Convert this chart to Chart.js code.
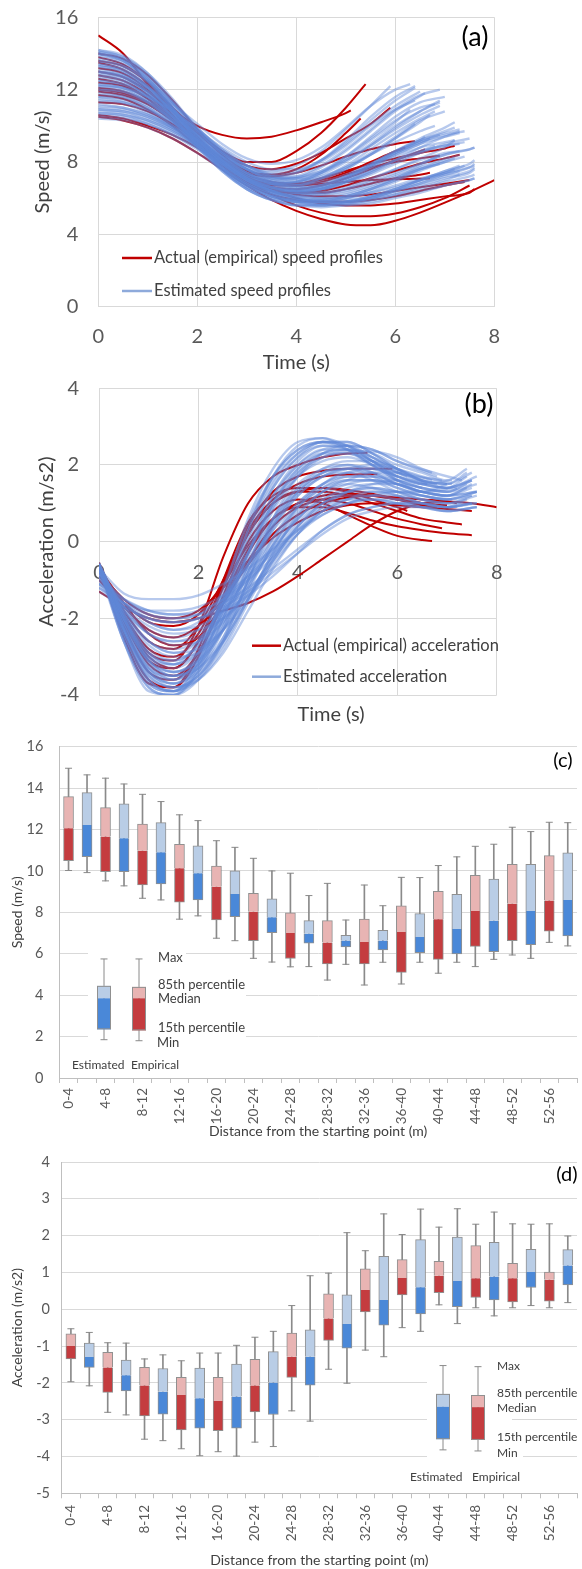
<!DOCTYPE html>
<html>
<head>
<meta charset="utf-8">
<script src="https://cdn.jsdelivr.net/npm/chart.js@4.4.1/dist/chart.umd.min.js"></script>
<style>
  html, body { margin: 0; padding: 0; background: #fff; }
  body { width: 582px; height: 1569px; position: relative; overflow: hidden; }
  canvas { position: absolute; left: 0; }
</style>
</head>
<body>
<canvas id="speedChart" width="582" height="380" style="top:0px"></canvas>
<canvas id="accelChart" width="582" height="350" style="top:380px"></canvas>
<canvas id="speedBox" width="582" height="410" style="top:730px"></canvas>
<canvas id="accelBox" width="582" height="429" style="top:1140px"></canvas>
<script>
// ---------- profile data: values every 0.5 s, the last value sits at the matching end time ----------
const STEP = 0.5;

const speedEmpirical = [
  [15.0,14.0,12.3,10.9,10.0,9.5,9.3,9.4,9.75,10.2,10.7,10.85],
  [13.5,13.1,12.2,11.0,9.7,8.6,8.0,8.0,8.6,9.6,11.0,12.3],
  [13.0,12.7,11.9,10.8,9.6,8.5,7.8,7.6,7.9,8.5,9.3,10.1,11.0],
  [12.1,11.9,11.3,10.4,9.3,8.2,7.4,7.2,7.4,7.8,8.3,8.7,9.0,9.15],
  [12.6,12.3,11.5,10.3,9.0,7.9,7.1,6.8,6.8,7.1,7.5,7.9,8.2,8.5,8.75,8.9],
  [11.7,11.5,10.9,10.0,8.9,7.9,7.1,6.8,6.7,6.8,6.9,7.0,7.05,7.08,7.1],
  [10.5,10.3,9.9,9.3,8.5,7.6,6.7,5.9,5.3,4.85,4.55,4.5,4.75,5.2,5.75,6.35,7.0],
  [10.6,10.4,10.0,9.5,8.8,7.9,7.0,6.2,5.6,5.2,5.0,5.0,5.15,5.5,6.0,6.7],
  [14.0,13.7,12.8,11.4,9.8,8.4,7.5,7.3,7.6,8.4,9.6,10.4],
  [13.8,13.4,12.4,10.9,9.3,8.0,7.1,6.7,6.7,6.9,7.3,7.7,8.0,8.2,8.35],
  [13.2,12.9,12.0,10.6,9.1,7.8,6.9,6.4,6.3,6.4,6.7,7.1,7.5,7.9,8.2,8.4],
  [12.4,12.2,11.5,10.4,9.1,7.9,7.0,6.5,6.3,6.3,6.5,6.8,7.1,7.3,7.4],
  [11.9,11.7,11.2,10.3,9.2,8.1,7.2,6.6,6.2,6.1,6.1,6.2,6.4,6.6,6.8,7.0],
  [12.8,12.5,11.7,10.5,9.1,7.8,6.8,6.2,5.9,5.8,5.8,5.9,6.1,6.4,6.7,6.9],
  [11.3,11.2,10.8,10.1,9.2,8.2,7.2,6.5,6.0,5.7,5.6,5.6,5.7,5.9,6.1,6.3,6.5],
  [13.6,13.3,12.4,11.0,9.4,8.0,7.1,6.6,6.5,6.7,7.1,7.6,8.1,8.6,8.7],
  [12.0,11.8,11.2,10.3,9.2,8.1,7.3,6.9,6.8,7.0,7.4,8.0,8.6,8.8]
];
const speedEmpiricalEnd = [5.1,5.4,5.9,6.4,7.2,6.7,8.0,7.5,5.3,6.9,7.3,6.7,7.5,7.4,7.6,6.6,6.2];

const speedEstimated = [
  [13.6,13.3,12.5,11.3,9.9,8.7,7.8,7.5,7.8,8.6,9.8,11.1,12.2],
  [12.9,12.7,12.1,11.2,10.1,9.0,8.2,7.9,8.1,8.8,9.9,11.1,12.0,12.3],
  [14.0,13.7,12.8,11.4,9.9,8.6,7.6,7.1,7.2,7.8,8.7,9.8,10.9,11.7,12.0],
  [12.3,12.1,11.6,10.8,9.8,8.8,8.0,7.6,7.6,8.1,9.0,10.1,11.1,11.9],
  [13.2,12.9,12.1,10.9,9.5,8.3,7.4,7.0,7.1,7.7,8.6,9.7,10.8,11.8],
  [11.6,11.4,10.9,10.1,9.2,8.3,7.6,7.3,7.4,8.0,8.9,10.0,10.9,11.4],
  [14.1,13.7,12.6,11.1,9.5,8.1,7.2,6.8,6.9,7.4,8.3,9.4,10.5,11.3,11.6],
  [12.7,12.5,11.9,10.9,9.7,8.5,7.6,7.1,7.1,7.5,8.3,9.3,10.3,11.0,11.2],
  [13.8,13.5,12.6,11.2,9.7,8.4,7.4,6.9,6.8,7.1,7.7,8.4,9.1,9.7,10.0],
  [12.0,11.8,11.3,10.5,9.5,8.5,7.6,7.0,6.8,6.9,7.3,7.9,8.6,9.2,9.7,9.9],
  [11.2,11.0,10.6,9.9,9.1,8.2,7.4,6.9,6.7,6.8,7.2,7.8,8.5,9.1,9.5],
  [13.4,13.1,12.2,10.9,9.4,8.1,7.1,6.6,6.5,6.7,7.2,7.8,8.4,9.0,9.4,9.6],
  [10.9,10.8,10.4,9.8,9.0,8.1,7.3,6.8,6.6,6.7,7.1,7.7,8.4,9.0,9.3],
  [12.5,12.3,11.6,10.5,9.2,8.0,7.0,6.5,6.3,6.5,7.0,7.6,8.3,8.8,9.1,9.2],
  [14.0,13.6,12.5,11.0,9.3,7.9,6.9,6.3,6.2,6.4,6.9,7.5,8.1,8.6,8.9],
  [11.5,11.3,10.8,10.0,9.0,8.0,7.1,6.6,6.4,6.5,6.9,7.5,8.1,8.6,8.9,9.0],
  [13.0,12.7,11.8,10.5,9.0,7.8,6.9,6.4,6.3,6.5,7.0,7.7,8.5,9.2,9.4],
  [10.6,10.5,10.1,9.5,8.7,7.9,7.1,6.6,6.4,6.5,6.9,7.4,8.0,8.5,8.9,9.1],
  [14.2,13.8,12.7,11.0,9.1,7.6,6.6,6.0,5.8,5.8,6.0,6.3,6.7,7.1,7.4,7.7,7.8],
  [12.2,12.0,11.3,10.2,8.9,7.7,6.8,6.2,5.9,5.9,6.0,6.3,6.6,7.0,7.3,7.5],
  [13.1,12.8,11.9,10.5,8.9,7.5,6.5,5.9,5.6,5.6,5.7,5.9,6.2,6.5,6.9,7.2,7.3],
  [11.0,10.9,10.5,9.8,8.9,7.9,7.0,6.3,5.9,5.7,5.7,5.9,6.2,6.6,7.0,7.3],
  [10.4,10.3,9.9,9.3,8.5,7.6,6.8,6.2,5.8,5.6,5.6,5.7,6.0,6.3,6.7,7.0,7.1],
  [13.5,13.2,12.2,10.7,9.0,7.6,6.6,6.0,5.7,5.6,5.7,6.0,6.4,6.9,7.4,7.6],
  [11.8,11.6,11.0,10.0,8.8,7.6,6.7,6.1,5.8,5.8,6.0,6.4,6.9,7.5,8.0,8.2],
  [12.8,12.5,11.6,10.3,8.8,7.5,6.5,5.9,5.6,5.5,5.6,5.8,6.1,6.4,6.7,7.0,7.1],
  [10.7,10.6,10.2,9.6,8.8,7.9,7.0,6.4,6.1,6.0,6.1,6.5,7.0,7.6,8.1,8.4],
  [12.6,12.4,11.7,10.6,9.3,8.0,7.0,6.4,6.1,6.1,6.3,6.7,7.2,7.7,8.2,8.3],
  [13.3,13.0,12.1,10.7,9.1,7.7,6.7,6.1,5.9,5.9,6.1,6.5,7.0,7.6,7.9],
  [11.3,11.2,10.7,9.9,8.9,7.9,7.0,6.4,6.0,5.8,5.8,6.0,6.3,6.7,7.1,7.4,7.6],
  [12.0,11.9,11.4,10.6,9.6,8.6,7.8,7.3,7.2,7.5,8.1,8.9,9.8,10.6,11.1],
  [10.8,10.7,10.3,9.7,8.9,8.1,7.3,6.8,6.7,7.0,7.6,8.4,9.3,10.1],
  [13.0,12.8,12.0,10.8,9.4,8.1,7.2,6.8,6.9,7.4,8.2,9.2,10.2,10.9],
  [14.1,13.8,12.9,11.5,9.8,8.3,7.2,6.6,6.5,6.7,7.2,7.9,8.6,9.2,9.6,9.8],
  [11.6,11.5,11.0,10.2,9.2,8.2,7.3,6.7,6.4,6.3,6.5,6.9,7.4,7.9,8.4,8.6],
  [12.3,12.1,11.4,10.3,9.0,7.8,6.8,6.2,5.9,5.9,6.1,6.5,7.1,7.8,8.4],
  [13.9,13.6,12.7,11.3,9.8,8.5,7.6,7.2,7.4,8.1,9.2,10.5,11.6,12.2],
  [12.5,12.3,11.7,10.8,9.7,8.6,7.8,7.4,7.5,8.1,9.1,10.3,11.4,12.1],
  [11.9,11.7,11.2,10.4,9.5,8.5,7.7,7.2,7.1,7.4,8.1,9.0,10.0,10.8,11.3],
  [13.3,13.0,12.1,10.8,9.3,8.0,7.1,6.7,6.7,7.1,7.8,8.7,9.6,10.4,10.8],
  [10.9,10.8,10.5,9.9,9.2,8.4,7.6,7.1,6.9,7.1,7.6,8.4,9.3,10.2,10.6],
  [14.2,13.9,12.9,11.3,9.6,8.1,7.1,6.5,6.4,6.6,7.1,7.8,8.5,9.1,9.5,9.7],
  [12.8,12.6,11.9,10.7,9.3,8.0,7.0,6.5,6.4,6.6,7.1,7.8,8.6,9.3,9.9,10.2],
  [11.4,11.3,10.9,10.2,9.3,8.3,7.4,6.8,6.5,6.5,6.8,7.3,7.9,8.5,9.0,9.3],
  [13.7,13.4,12.4,11.0,9.4,8.0,7.0,6.4,6.2,6.3,6.6,7.1,7.6,8.1,8.5,8.7,8.8],
  [12.1,11.9,11.3,10.3,9.1,7.9,6.9,6.3,6.0,6.0,6.2,6.6,7.1,7.6,8.0,8.3],
  [10.5,10.4,10.1,9.5,8.8,8.0,7.2,6.6,6.3,6.2,6.4,6.8,7.3,7.9,8.4,8.7,8.8],
  [13.0,12.7,11.8,10.5,9.0,7.7,6.7,6.1,5.8,5.7,5.8,6.1,6.5,7.0,7.5,7.9,8.1],
  [11.7,11.6,11.1,10.3,9.2,8.1,7.1,6.4,6.0,5.8,5.8,6.0,6.4,6.8,7.3,7.7,7.9],
  [14.0,13.6,12.5,10.9,9.1,7.6,6.5,5.9,5.6,5.6,5.8,6.1,6.5,7.0,7.5,7.8],
  [12.4,12.2,11.5,10.4,9.0,7.7,6.7,6.1,5.8,5.7,5.8,6.0,6.4,6.8,7.2,7.5,7.7],
  [10.7,10.6,10.3,9.7,8.9,8.0,7.1,6.4,6.0,5.8,5.9,6.1,6.5,7.0,7.4,7.8],
  [13.6,13.3,12.4,11.0,9.5,8.2,7.3,6.9,6.9,7.3,8.0,8.9,9.9,10.8,11.4],
  [12.2,12.1,11.6,10.8,9.8,8.7,7.8,7.2,7.0,7.2,7.7,8.5,9.4,10.3,10.8],
  [11.1,11.0,10.6,10.0,9.2,8.3,7.5,6.9,6.6,6.6,6.9,7.4,8.1,8.8,9.4,9.7],
  [13.4,13.1,12.2,10.8,9.2,7.8,6.8,6.3,6.1,6.2,6.5,7.0,7.6,8.2,8.8,9.2]
];
const speedEstimatedEnd = [5.9,6.3,6.9,6.5,6.6,6.4,7.0,6.8,6.8,7.2,6.9,7.3,6.7,7.2,6.8,7.3,6.6,7.4,
                           7.6,7.3,7.6,7.3,7.6,7.2,7.2,7.6,7.3,7.1,6.9,7.6,6.9,6.4,6.3,7.3,7.3,6.9,
                           6.4,6.4,6.9,6.8,6.7,7.4,7.2,7.5,7.6,7.4,7.6,7.6,7.6,7.3,7.6,7.4,6.9,7.0,7.3,7.2];

const accelEmpirical = [
  [-0.6,-1.9,-2.9,-3.1,-2.2,-0.4,1.0,1.7,2.0,2.2,2.3,2.32],
  [-0.7,-2.0,-3.0,-3.3,-2.6,-1.1,0.4,1.3,1.7,1.85,1.9,1.9,1.9],
  [-0.6,-1.8,-2.6,-2.8,-2.2,-1.0,0.3,1.1,1.5,1.7,1.75,1.76],
  [-1.3,-1.7,-2.0,-2.1,-2.0,-1.8,-1.6,-1.3,-0.9,-0.45,0.0,0.45,0.8,1.0,1.05,1.0,0.9],
  [-0.6,-2.2,-3.4,-3.6,-2.9,-1.5,-0.2,0.6,0.9,0.9,0.75,0.55,0.4,0.3,0.22,0.17],
  [-0.6,-2.4,-3.6,-3.8,-3.0,-1.4,0.0,0.8,1.1,1.0,0.7,0.4,0.15,0.04,0.02],
  [-0.7,-2.1,-3.2,-3.5,-2.9,-1.6,-0.3,0.6,1.0,1.1,1.0,0.8,0.6,0.45,0.35],
  [-1.0,-1.7,-2.3,-2.5,-2.2,-1.5,-0.6,0.2,0.7,1.0,1.15,1.2,1.15,1.1,1.05,1.0],
  [-0.8,-1.5,-1.9,-2.0,-1.8,-1.2,-0.5,0.1,0.5,0.8,0.95,1.0,0.95,0.9,0.85,0.8],
  [-0.6,-1.9,-2.8,-3.0,-2.4,-1.1,0.2,1.0,1.3,1.3,1.2,1.0,0.8,0.6,0.5,0.45],
  [-0.55,-2.0,-3.1,-3.3,-2.6,-1.2,0.2,1.0,1.3,1.4,1.35,1.25,1.1,0.95,0.9],
  [-0.9,-1.6,-2.1,-2.2,-1.9,-1.1,-0.1,0.6,1.0,1.2,1.25,1.2,1.1,1.0,0.95],
  [-0.6,-2.5,-3.7,-3.8,-2.8,-1.0,0.5,1.2,1.4,1.4,1.3,1.1,0.9,0.8],
  [-0.7,-1.6,-2.4,-2.7,-2.5,-1.6,-0.5,0.4,0.9,1.1,1.2,1.2,1.1,1.0,0.95]
];
const accelEmpiricalEnd = [5.4,5.9,5.6,8.0,7.5,6.7,6.9,7.2,7.5,7.3,6.8,6.6,6.2,7.0];

const accelEstimated = [
  [-0.6,-2.4,-3.6,-3.9,-3.1,-1.3,0.6,1.9,2.6,2.7,2.4,1.9],
  [-0.6,-2.2,-3.3,-3.6,-3.0,-1.5,0.3,1.6,2.3,2.6,2.5,2.2,1.8],
  [-0.7,-2.6,-3.8,-4.0,-3.3,-1.7,0.2,1.5,2.3,2.6,2.6,2.3,1.9,1.5],
  [-0.55,-1.9,-2.9,-3.2,-2.8,-1.6,-0.1,1.2,2.0,2.4,2.5,2.4,2.1,1.7],
  [-0.6,-1.8,-2.6,-2.9,-2.6,-1.6,-0.3,0.9,1.7,2.2,2.35,2.35,2.2,1.9,1.6],
  [-0.7,-2.3,-3.4,-3.7,-3.2,-2.0,-0.4,1.0,1.9,2.3,2.3,2.0,1.6,1.3,1.4],
  [-0.8,-1.7,-2.3,-2.5,-2.3,-1.6,-0.5,0.6,1.4,1.9,2.1,2.1,1.9,1.6,1.4,1.7],
  [-0.6,-2.0,-3.0,-3.4,-3.1,-2.1,-0.7,0.6,1.5,1.9,2.0,1.8,1.5,1.3,1.5],
  [-0.9,-1.5,-1.9,-2.0,-1.9,-1.4,-0.6,0.3,1.0,1.5,1.8,1.9,1.8,1.6,1.5,1.8],
  [-0.6,-2.5,-3.7,-3.9,-3.4,-2.3,-0.8,0.5,1.4,1.8,1.9,1.7,1.4,1.2,1.1],
  [-1.0,-1.6,-2.1,-2.3,-2.2,-1.8,-1.1,-0.2,0.6,1.2,1.5,1.6,1.5,1.3,1.2,1.4],
  [-0.7,-2.1,-3.2,-3.6,-3.3,-2.5,-1.2,0.0,0.9,1.4,1.6,1.6,1.4,1.2,1.1,1.3],
  [-1.2,-1.6,-1.8,-1.8,-1.7,-1.4,-0.9,-0.3,0.3,0.8,1.1,1.3,1.3,1.2,1.1,1.2],
  [-0.6,-2.3,-3.5,-3.8,-3.5,-2.6,-1.3,-0.1,0.8,1.3,1.5,1.4,1.2,1.0,0.9,1.1],
  [-0.8,-1.9,-2.7,-3.0,-2.9,-2.3,-1.4,-0.4,0.4,1.0,1.3,1.4,1.3,1.1,1.0,1.0],
  [-1.1,-1.5,-1.8,-1.9,-1.9,-1.6,-1.2,-0.7,-0.2,0.3,0.7,0.9,1.0,1.0,0.9,1.0],
  [-0.6,-2.6,-3.9,-4.0,-3.4,-2.0,-0.3,1.1,2.0,2.4,2.4,2.1,1.7],
  [-0.55,-2.0,-3.0,-3.2,-2.6,-1.2,0.5,1.7,2.4,2.6,2.5,2.1,1.6],
  [-0.7,-2.1,-3.1,-3.4,-3.0,-1.9,-0.3,1.0,1.8,2.2,2.3,2.1,1.8,1.6],
  [-0.9,-1.8,-2.4,-2.6,-2.4,-1.8,-0.9,0.1,0.9,1.4,1.7,1.7,1.6,1.4,1.3,1.5],
  [-0.6,-2.2,-3.3,-3.7,-3.4,-2.6,-1.5,-0.4,0.5,1.0,1.2,1.2,1.1,0.9,0.8,0.9],
  [-1.3,-1.7,-2.0,-2.1,-2.0,-1.7,-1.3,-0.8,-0.3,0.2,0.6,0.8,0.9,0.9,0.8,0.9],
  [-0.7,-2.4,-3.6,-3.9,-3.6,-2.8,-1.6,-0.5,0.4,0.9,1.1,1.1,1.0,0.9,0.9],
  [-0.6,-1.9,-2.8,-3.1,-2.7,-1.5,0.1,1.4,2.2,2.6,2.6,2.3,1.9,1.6],
  [-0.8,-1.6,-2.1,-2.3,-2.1,-1.5,-0.6,0.4,1.2,1.7,1.9,2.0,1.9,1.7,1.5],
  [-0.6,-2.0,-3.1,-3.5,-3.2,-2.2,-0.8,0.5,1.3,1.7,1.8,1.6,1.3,1.1,1.0,1.2],
  [-1.1,-1.8,-2.4,-2.6,-2.5,-2.0,-1.3,-0.5,0.2,0.7,1.0,1.1,1.1,1.0,0.9,1.0],
  [-0.6,-2.3,-3.4,-3.7,-3.3,-2.2,-0.6,0.9,1.8,2.3,2.4,2.3,2.0,1.8,1.6,1.9],
  [-0.7,-1.35,-1.5,-1.5,-1.4,-1.1,-0.7,-0.2,0.3,0.7,1.0,1.2,1.3,1.3,1.2,1.3],
  [-0.6,-2.1,-3.2,-3.5,-3.2,-2.3,-1.0,0.3,1.2,1.7,1.9,1.9,1.7,1.5,1.4,1.6],
  [-0.6,-2.5,-3.7,-3.9,-3.2,-1.6,0.3,1.7,2.5,2.7,2.5,2.1,1.7],
  [-0.65,-2.2,-3.3,-3.5,-2.9,-1.4,0.4,1.7,2.4,2.6,2.4,2.0,1.6,1.4],
  [-0.7,-2.0,-3.0,-3.3,-2.9,-1.8,-0.3,1.0,1.9,2.3,2.4,2.2,1.9,1.6,1.5],
  [-0.8,-1.8,-2.6,-2.8,-2.6,-1.9,-0.8,0.4,1.3,1.8,2.0,1.9,1.7,1.5,1.4,1.7],
  [-0.6,-2.4,-3.6,-3.9,-3.5,-2.5,-1.0,0.4,1.3,1.8,1.9,1.8,1.5,1.3,1.2,1.4],
  [-0.9,-1.6,-2.0,-2.1,-2.0,-1.6,-1.0,-0.2,0.6,1.1,1.4,1.5,1.5,1.4,1.3,1.5],
  [-0.6,-2.1,-3.1,-3.4,-3.1,-2.3,-1.1,0.1,1.0,1.5,1.7,1.7,1.5,1.3,1.2,1.5],
  [-1.0,-1.7,-2.2,-2.4,-2.3,-2.0,-1.4,-0.6,0.2,0.8,1.1,1.2,1.2,1.1,1.0,1.2],
  [-0.7,-2.3,-3.5,-3.8,-3.5,-2.7,-1.5,-0.3,0.6,1.1,1.3,1.3,1.2,1.0,0.9,1.0],
  [-0.6,-1.9,-2.9,-3.2,-2.9,-2.0,-0.6,0.8,1.7,2.1,2.2,2.0,1.7,1.5,1.6],
  [-1.2,-1.7,-2.0,-2.1,-2.0,-1.8,-1.4,-0.9,-0.3,0.3,0.7,0.9,1.0,1.0,0.9,1.0],
  [-0.6,-2.6,-3.8,-4.0,-3.6,-2.6,-1.0,0.6,1.7,2.3,2.5,2.4,2.1,1.8],
  [-0.8,-1.5,-1.8,-1.9,-1.8,-1.5,-1.0,-0.4,0.3,0.9,1.3,1.5,1.6,1.5,1.4,1.6],
  [-0.6,-2.2,-3.4,-3.8,-3.6,-2.9,-1.8,-0.7,0.2,0.8,1.0,1.1,1.0,0.9,0.8,0.9],
  [-0.7,-2.0,-2.9,-3.1,-2.7,-1.7,-0.2,1.2,2.1,2.5,2.5,2.2,1.8,1.5],
  [-0.9,-1.9,-2.6,-2.9,-2.8,-2.3,-1.5,-0.5,0.4,1.0,1.3,1.4,1.3,1.2,1.1,1.3],
  [-0.6,-2.3,-3.4,-3.6,-3.1,-1.8,0.0,1.4,2.2,2.5,2.4,2.1,1.7,1.5],
  [-1.1,-1.6,-1.9,-2.0,-1.9,-1.5,-0.9,-0.1,0.7,1.3,1.6,1.8,1.8,1.6,1.5,1.8],
  [-0.6,-2.0,-3.1,-3.5,-3.3,-2.6,-1.5,-0.3,0.7,1.3,1.6,1.6,1.5,1.3,1.2,1.3],
  [-0.75,-1.7,-2.4,-2.7,-2.6,-2.1,-1.2,-0.1,0.9,1.5,1.8,1.8,1.6,1.4,1.3,1.6]
];
const accelEstimatedEnd = [5.6,6.1,6.6,6.8,7.3,7.2,7.6,7.0,7.5,7.1,7.4,7.6,7.5,7.4,7.6,7.5,
                           6.2,6.0,6.9,7.4,7.6,7.6,7.2,6.7,7.1,7.5,7.5,7.4,7.6,7.5,
                           6.0,6.5,7.0,7.4,7.5,7.6,7.5,7.6,7.5,7.1,7.6,6.7,7.5,7.6,6.6,7.6,6.8,7.4,7.6,7.5];

// ---------- box-plot statistics per 4 m distance bin ----------
const distanceBins = ['0-4','4-8','8-12','12-16','16-20','20-24','24-28','28-32','32-36','36-40','40-44','44-48','48-52','52-56'];

const speedEmpMax = [14.96,14.48,13.70,12.71,11.46,10.61,9.89,9.40,9.32,9.69,10.26,11.19,12.11,12.35];
const speedEmpQ85 = [13.59,13.06,12.26,11.29,10.24,8.92,7.98,7.60,7.68,8.31,9.02,9.79,10.32,10.74];
const speedEmpMed = [12.06,11.66,10.98,10.13,9.24,8.03,7.00,6.54,6.57,7.05,7.67,8.07,8.42,8.57];
const speedEmpQ15 = [10.50,9.97,9.32,8.49,7.63,6.63,5.77,5.51,5.51,5.10,5.73,6.36,6.63,7.09];
const speedEmpMin = [10.02,9.52,8.68,7.67,6.75,5.78,5.37,4.73,4.49,4.54,5.06,5.38,5.94,6.55];

const speedEstMax = [14.64,14.20,13.35,12.43,11.14,10.00,8.81,7.63,8.32,9.68,10.68,11.29,11.90,12.33];
const speedEstQ85 = [13.78,13.24,12.33,11.21,10.00,8.65,7.60,6.89,7.13,7.94,8.87,9.61,10.32,10.87];
const speedEstMed = [12.22,11.58,10.90,9.89,8.89,7.76,6.97,6.64,6.64,6.81,7.20,7.60,8.07,8.60];
const speedEstQ15 = [10.69,9.97,9.37,8.60,7.79,7.02,6.51,6.33,6.18,6.05,5.99,6.10,6.44,6.86];
const speedEstMin = [9.92,9.28,8.60,7.83,6.63,5.60,5.38,5.49,5.59,5.59,5.59,5.73,5.78,6.38];

const accelEmpMax = [-0.53,-0.91,-1.35,-1.40,-1.19,-0.76,0.10,0.98,1.59,2.03,2.23,2.31,2.32,2.32];
const accelEmpQ85 = [-0.67,-1.17,-1.58,-1.85,-1.85,-1.36,-0.65,0.42,1.10,1.35,1.30,1.73,1.25,1.01];
const accelEmpMed = [-1.00,-1.58,-2.07,-2.33,-2.49,-2.07,-1.29,-0.25,0.52,0.85,0.91,0.84,0.84,0.80];
const accelEmpQ15 = [-1.35,-2.26,-2.90,-3.28,-3.30,-2.79,-1.85,-0.85,-0.07,0.39,0.45,0.32,0.20,0.22];
const accelEmpMin = [-1.97,-2.80,-3.53,-3.79,-3.87,-3.61,-2.76,-1.63,-1.11,-0.50,0.12,0.04,0.04,0.04];

const accelEstMax = [-0.63,-0.92,-1.24,-1.19,-0.98,-0.60,0.91,2.08,2.59,2.72,2.73,2.64,2.31,1.99];
const accelEstQ85 = [-0.92,-1.38,-1.61,-1.60,-1.49,-1.15,-0.56,0.39,1.44,1.89,1.96,1.82,1.63,1.62];
const accelEstMed = [-1.30,-1.79,-2.24,-2.42,-2.37,-1.99,-1.29,-0.40,0.25,0.60,0.77,0.89,1.01,1.19];
const accelEstQ15 = [-1.58,-2.22,-2.85,-3.23,-3.23,-2.86,-2.06,-1.06,-0.43,-0.13,0.07,0.25,0.59,0.66];
const accelEstMin = [-2.08,-2.87,-3.57,-3.98,-3.99,-3.73,-3.04,-2.01,-1.29,-0.60,-0.39,-0.18,0.10,0.18];

// key boxes: max, 85th percentile, median, 15th percentile, min
const speedKeyEstimated = [5.75,4.45,3.85,2.35,1.85];
const speedKeyEmpirical = [5.75,4.40,3.85,2.30,1.80];
const accelKeyEstimated = [-1.53,-2.30,-2.65,-3.53,-3.82];
const accelKeyEmpirical = [-1.56,-2.33,-2.66,-3.55,-3.85];

// ---------- styling ----------
Chart.defaults.font.family = 'Lato, "Open Sans", sans-serif';
const TICK = '#595959';
const TITLE = '#404040';
const GRID = '#d9d9d9';
const AXIS = '#bfbfbf';
const RED_LINE = '#c00000';
const BLUE_LINE = 'rgba(96,136,214,0.45)';
const BLUE_KEY = '#8eaadb';
const RED_DARK = '#c43c3f';
const RED_LIGHT = '#e8b4b3';
const BLUE_DARK = '#4a88d8';
const BLUE_LIGHT = '#b9cde6';
const WHISKER = '#8a8a8a';
const EDGE = '#909090';

const fitWidth = w => scale => { scale.width = w; scale.paddingTop = 0; scale.paddingBottom = 0; scale.paddingLeft = 0; scale.paddingRight = 0; };
const fitHeight = h => scale => { scale.height = h; scale.paddingTop = 0; scale.paddingBottom = 0; scale.paddingLeft = 0; scale.paddingRight = 0; };

function curveSets(list, ends, color, width, order) {
  return list.map((vals, k) => ({
    data: vals.map((v, i) => ({ x: i === vals.length - 1 ? ends[k] : i * STEP, y: v })),
    borderColor: color,
    borderWidth: width,
    pointRadius: 0,
    fill: false,
    cubicInterpolationMode: 'monotone',
    order: order
  }));
}

function text(ctx, str, x, y, size, color, align) {
  ctx.save();
  ctx.font = size + 'px Lato, "Open Sans", sans-serif';
  ctx.fillStyle = color;
  ctx.textAlign = align || 'left';
  ctx.textBaseline = 'middle';
  ctx.fillText(str, x, y);
  ctx.restore();
}

function keyLine(ctx, x0, x1, y, color, w) {
  ctx.save();
  ctx.strokeStyle = color; ctx.lineWidth = w;
  ctx.beginPath(); ctx.moveTo(x0, y); ctx.lineTo(x1, y); ctx.stroke();
  ctx.restore();
}

const common = {
  responsive: false,
  animation: false,
  events: [],
  devicePixelRatio: 1,
  plugins: { legend: { display: false }, tooltip: { enabled: false } }
};

// ---------- (a) speed profiles ----------
const panelA = {
  id: 'panelA',
  afterDraw(chart) {
    const ctx = chart.ctx;
    text(ctx, '(a)', 475, 37, 27, '#000', 'center');
    keyLine(ctx, 122, 152, 258, RED_LINE, 2.5);
    text(ctx, 'Actual (empirical) speed profiles', 154, 258, 16.5, TITLE);
    keyLine(ctx, 122, 152, 291, BLUE_KEY, 2.5);
    text(ctx, 'Estimated speed profiles', 154, 291, 16.5, TITLE);
  }
};

new Chart(document.getElementById('speedChart'), {
  type: 'line',
  data: {
    datasets: [
      ...curveSets(speedEstimated, speedEstimatedEnd, BLUE_LINE, 2.4, 0),
      ...curveSets(speedEmpirical, speedEmpiricalEnd, RED_LINE, 2, 1)
    ]
  },
  options: {
    ...common,
    layout: { padding: { left: 0, top: 17.3, right: 87.7, bottom: 0 } },
    scales: {
      x: {
        type: 'linear', min: 0, max: 8,
        ticks: { stepSize: 2, padding: 18, font: { size: 20 }, color: TICK, maxRotation: 0 },
        grid: { color: GRID, drawTicks: false },
        border: { color: GRID },
        title: { display: true, text: 'Time (s)', font: { size: 20 }, color: TITLE, padding: { top: 0, bottom: 5 } },
        afterFit: fitHeight(73.3)
      },
      y: {
        type: 'linear', min: 0, max: 16,
        ticks: { stepSize: 4, padding: 20, font: { size: 20 }, color: TICK },
        grid: { color: GRID, drawTicks: false },
        border: { color: GRID },
        title: { display: true, text: 'Speed (m/s)', font: { size: 20 }, color: TITLE, padding: { top: 31, bottom: 0 } },
        afterFit: fitWidth(98.3)
      }
    }
  },
  plugins: [panelA]
});

// ---------- (b) acceleration profiles ----------
const panelB = {
  id: 'panelB',
  afterDraw(chart) {
    const ctx = chart.ctx;
    text(ctx, '(b)', 479, 24, 27, '#000', 'center');
    text(ctx, 'Time (s)', 331, 335, 20, TITLE, 'center');
    keyLine(ctx, 252, 281, 265.7, RED_LINE, 2.5);
    text(ctx, 'Actual (empirical) acceleration', 283, 265.7, 16.5, TITLE);
    keyLine(ctx, 252, 281, 296.7, BLUE_KEY, 2.5);
    text(ctx, 'Estimated acceleration', 283, 296.7, 16.5, TITLE);
  }
};

new Chart(document.getElementById('accelChart'), {
  type: 'line',
  data: {
    datasets: [
      ...curveSets(accelEstimated, accelEstimatedEnd, BLUE_LINE, 2.4, 0),
      ...curveSets(accelEmpirical, accelEmpiricalEnd, RED_LINE, 2, 1)
    ]
  },
  options: {
    ...common,
    layout: { padding: { left: 0, top: 8.3, right: 85.3, bottom: 35 } },
    scales: {
      x: {
        type: 'linear', min: 0, max: 8, position: { y: 0 },
        ticks: { stepSize: 2, padding: 19, font: { size: 20 }, color: TICK, maxRotation: 0 },
        grid: { color: GRID, drawTicks: false },
        border: { color: GRID },
        title: { display: false },
        afterFit: fitHeight(40)
      },
      y: {
        type: 'linear', min: -4, max: 4,
        ticks: { stepSize: 2, padding: 20, font: { size: 20 }, color: TICK },
        grid: { color: GRID, drawTicks: false },
        border: { color: GRID },
        title: { display: true, text: 'Acceleration (m/s2)', font: { size: 20 }, color: TITLE, padding: { top: 35, bottom: 0 } },
        afterFit: fitWidth(99)
      }
    }
  },
  plugins: [panelB]
});

// ---------- box plots ----------
const interleave = (a, b) => a.flatMap((v, i) => [v, b[i]]);
const slots = distanceBins.flatMap(b => [b + ' empirical', b + ' estimated']);
const darkFill = slots.map((_, i) => i % 2 === 0 ? RED_DARK : BLUE_DARK);
const lightFill = slots.map((_, i) => i % 2 === 0 ? RED_LIGHT : BLUE_LIGHT);

function boxDatasets(emp, est) {
  const mx = interleave(emp.max, est.max);
  const q85 = interleave(emp.q85, est.q85);
  const med = interleave(emp.med, est.med);
  const q15 = interleave(emp.q15, est.q15);
  const mn = interleave(emp.min, est.min);
  return [
    { type: 'bar', data: mn.map((v, i) => [v, mx[i]]), backgroundColor: WHISKER, barThickness: 1, grouped: false, order: 3 },
    { type: 'bar', data: q15.map((v, i) => [v, med[i]]), backgroundColor: darkFill, borderColor: EDGE,
      borderWidth: { top: 0, left: 1, right: 1, bottom: 1 }, borderSkipped: false, barThickness: 10, grouped: false, order: 2 },
    { type: 'bar', data: med.map((v, i) => [v, q85[i]]), backgroundColor: lightFill, borderColor: EDGE,
      borderWidth: { top: 1, left: 1, right: 1, bottom: 0 }, borderSkipped: false, barThickness: 10, grouped: false, order: 1 },
    { type: 'line', data: mx, showLine: false, pointStyle: 'line', pointRadius: 3.5, pointBorderColor: WHISKER, pointBorderWidth: 1, order: 0 },
    { type: 'line', data: mn, showLine: false, pointStyle: 'line', pointRadius: 3.5, pointBorderColor: WHISKER, pointBorderWidth: 1, order: 0 }
  ];
}

function keyBox(ctx, yScale, xc, vals, dark, light) {
  const [mx, q85, med, q15, mn] = vals.map(v => yScale.getPixelForValue(v));
  ctx.save();
  ctx.strokeStyle = WHISKER; ctx.lineWidth = 1;
  ctx.beginPath();
  ctx.moveTo(xc, mx); ctx.lineTo(xc, mn);
  ctx.moveTo(xc - 3.5, mx); ctx.lineTo(xc + 3.5, mx);
  ctx.moveTo(xc - 3.5, mn); ctx.lineTo(xc + 3.5, mn);
  ctx.stroke();
  ctx.fillStyle = light; ctx.fillRect(xc - 7, q85, 14, med - q85);
  ctx.fillStyle = dark; ctx.fillRect(xc - 7, med, 14, q15 - med);
  ctx.strokeStyle = EDGE;
  ctx.strokeRect(xc - 6.5, q85 + 0.5, 13, q15 - q85 - 1);
  ctx.restore();
}

function distanceAxis(height, pad) {
  return {
    type: 'category',
    offset: true,
    ticks: {
      autoSkip: false, minRotation: 90, maxRotation: 90, padding: pad,
      font: { size: 13.5 }, color: TICK,
      callback: (v, i) => i % 2 === 0 ? distanceBins[i / 2] : ''
    },
    grid: { offset: true, drawOnChartArea: false, drawTicks: true, tickLength: 5, color: AXIS },
    border: { color: AXIS },
    title: { display: true, text: 'Distance from the starting point (m)', font: { size: 14 }, color: TITLE, padding: { top: 0, bottom: 0.6 } },
    afterFit: fitHeight(height)
  };
}

// (c) speed by distance
const panelC = {
  id: 'panelC',
  beforeDatasetsDraw(chart) {
    const ctx = chart.ctx;
    ctx.save(); ctx.fillStyle = '#fff';
    ctx.fillRect(88, 215, 62, 125);
    ctx.fillRect(150, 220, 36, 16);
    ctx.fillRect(150, 246, 96, 76);
    ctx.restore();
  },
  afterDatasetsDraw(chart) {
    const ctx = chart.ctx, y = chart.scales.y;
    keyBox(ctx, y, 104, speedKeyEstimated, BLUE_DARK, BLUE_LIGHT);
    keyBox(ctx, y, 139, speedKeyEmpirical, RED_DARK, RED_LIGHT);
    text(ctx, 'Max', 158, 228, 13, TITLE);
    text(ctx, '85th percentile', 158, 255, 13, TITLE);
    text(ctx, 'Median', 158, 269, 13, TITLE);
    text(ctx, '15th percentile', 158, 298, 13, TITLE);
    text(ctx, 'Min', 157, 313, 13, TITLE);
    text(ctx, 'Estimated', 72, 335, 12, TITLE);
    text(ctx, 'Empirical', 131, 335, 12, TITLE);
    text(ctx, '(c)', 563, 31, 20, '#000', 'center');
  }
};

new Chart(document.getElementById('speedBox'), {
  type: 'bar',
  data: {
    labels: slots,
    datasets: boxDatasets(
      { max: speedEmpMax, q85: speedEmpQ85, med: speedEmpMed, q15: speedEmpQ15, min: speedEmpMin },
      { max: speedEstMax, q85: speedEstQ85, med: speedEstMed, q15: speedEstQ15, min: speedEstMin })
  },
  options: {
    ...common,
    layout: { padding: { left: 0, top: 16.7, right: 0, bottom: 0 } },
    scales: {
      x: distanceAxis(62, 5),
      y: {
        type: 'linear', min: 0, max: 16,
        ticks: { stepSize: 2, padding: 16, font: { size: 14.5 }, color: TICK },
        grid: { color: GRID, drawTicks: false },
        border: { color: AXIS },
        title: { display: true, text: 'Speed (m/s)', font: { size: 14 }, color: TITLE, padding: { top: 8.6, bottom: 0 } },
        afterFit: fitWidth(59.3)
      }
    }
  },
  plugins: [panelC]
});

// (d) acceleration by distance
const panelD = {
  id: 'panelD',
  beforeDatasetsDraw(chart) {
    const ctx = chart.ctx;
    ctx.save(); ctx.fillStyle = '#fff';
    ctx.fillRect(427, 210, 85, 120);
    ctx.fillRect(490, 216, 92, 44);
    ctx.fillRect(495, 306, 28, 16);
    ctx.restore();
  },
  afterDatasetsDraw(chart) {
    const ctx = chart.ctx, y = chart.scales.y;
    keyBox(ctx, y, 443, accelKeyEstimated, BLUE_DARK, BLUE_LIGHT);
    keyBox(ctx, y, 478, accelKeyEmpirical, RED_DARK, RED_LIGHT);
    text(ctx, 'Max', 497, 226, 12, TITLE);
    text(ctx, '85th percentile', 497, 253, 12, TITLE);
    text(ctx, 'Median', 497, 268, 12, TITLE);
    text(ctx, '15th percentile', 497, 297, 12, TITLE);
    text(ctx, 'Min', 497, 313, 12, TITLE);
    text(ctx, 'Estimated', 410, 337, 12, TITLE);
    text(ctx, 'Empirical', 472, 337, 12, TITLE);
    text(ctx, '(d)', 567, 35, 20, '#000', 'center');
  }
};

new Chart(document.getElementById('accelBox'), {
  type: 'bar',
  data: {
    labels: slots,
    datasets: boxDatasets(
      { max: accelEmpMax, q85: accelEmpQ85, med: accelEmpMed, q15: accelEmpQ15, min: accelEmpMin },
      { max: accelEstMax, q85: accelEstQ85, med: accelEstMed, q15: accelEstQ15, min: accelEstMin })
  },
  options: {
    ...common,
    layout: { padding: { left: 0, top: 22, right: 0, bottom: 0 } },
    scales: {
      x: distanceAxis(75.7, 6.7),
      y: {
        type: 'linear', min: -5, max: 4,
        ticks: { stepSize: 1, padding: 11.7, font: { size: 14.5 }, color: TICK },
        grid: { color: GRID, drawTicks: false },
        border: { color: AXIS },
        title: { display: true, text: 'Acceleration (m/s2)', font: { size: 14 }, color: TITLE, padding: { top: 8.6, bottom: 0 } },
        afterFit: fitWidth(61.7)
      }
    }
  },
  plugins: [panelD]
});
</script>
</body>
</html>
